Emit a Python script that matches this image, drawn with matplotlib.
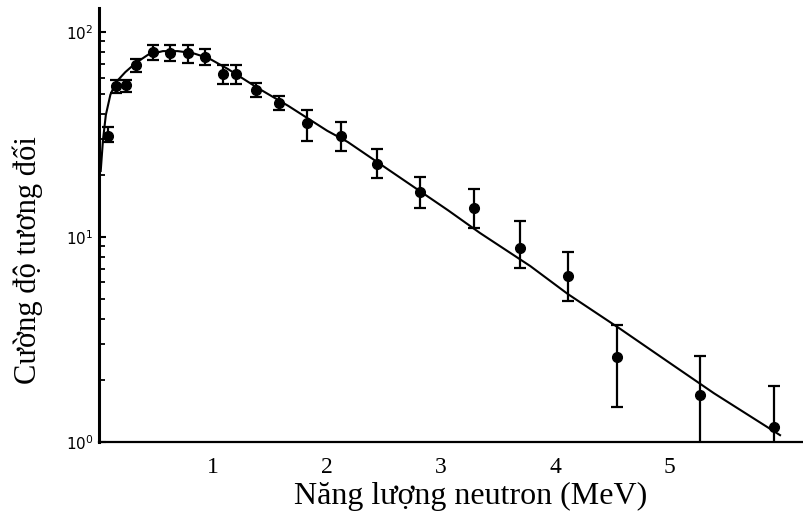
import matplotlib.pyplot as plt
import numpy as np

# measured points (MeV, relative intensity) with lower/upper bar ends
energy = [0.08, 0.15, 0.24, 0.32, 0.47, 0.62, 0.78, 0.93, 1.09, 1.20, 1.38,
          1.58, 1.82, 2.12, 2.44, 2.81, 3.29, 3.69, 4.11, 4.54, 5.27, 5.92]
intensity = [31, 54.5, 55, 69, 80, 79, 79, 75.5, 62.4, 62.4, 52,
             45, 36, 31, 22.7, 16.6, 13.8, 8.8, 6.45, 2.6, 1.70, 1.18]
bar_lo = [29.1, 50.4, 51, 63.8, 73, 72, 71, 69, 55.7, 55.7, 48.2,
          41.7, 29.4, 26.3, 19.4, 13.8, 11.1, 7.1, 4.87, 1.48, 0.8, 0.9]
bar_hi = [34.4, 58.3, 58.3, 73.8, 86.4, 86.4, 86.4, 82.6, 69, 69, 56.4,
          48.7, 41.7, 36.4, 26.9, 19.6, 17.1, 12.0, 8.45, 3.72, 2.63, 1.88]

# fitted curve
curve_x = [0.015, 0.035, 0.06, 0.1, 0.15, 0.23, 0.32, 0.43, 0.56, 0.69, 0.82,
           0.96, 1.13, 1.39, 1.66, 2.0, 2.18, 3.06, 3.34, 3.78, 4.11,
           4.57, 4.98, 5.39, 5.97]
curve_y = [21, 29.8, 39.4, 49.5, 57, 63.7, 70.5, 77.5, 80.7, 80.7, 79,
           74.6, 66, 53.4, 43.6, 33, 29.1, 13.5, 10.46, 7.22, 5.27,
           3.56, 2.48, 1.73, 1.08]

xticks = [1, 2, 3, 4, 5]

fig = plt.figure(figsize=(8.04, 5.19), dpi=100)
ax = fig.add_axes([99 / 804, 77 / 519, 705 / 804, 434 / 519])

y = np.array(intensity)
yerr = [y - np.array(bar_lo), np.array(bar_hi) - y]

ax.plot(curve_x, curve_y, color="black", lw=1.5)
ax.errorbar(energy, intensity, yerr=yerr, fmt="o", color="black",
            ms=7, elinewidth=1.6, capsize=4, capthick=1.6)

ax.set_yscale("log")
ax.set_ylim(1, 131)
ax.set_xlim(0, 6.18)

for s in ["top", "right"]:
    ax.spines[s].set_visible(False)
ax.spines["left"].set_linewidth(2.2)
ax.spines["bottom"].set_linewidth(1.6)

ax.set_xticks(xticks)
ax.set_xticklabels([str(t) for t in xticks], family="Liberation Serif", fontsize=17)
ax.tick_params(axis="x", length=0, pad=11)

ax.set_yticks([1, 10, 100])
ax.set_yticklabels(["$10^0$", "$10^1$", "$10^2$"], fontsize=11)
ax.tick_params(axis="y", which="major", direction="in", length=5, width=1.5, pad=4)
ax.tick_params(axis="y", which="minor", direction="in", length=4, width=1.3)

ax.set_xlabel("Năng lượng neutron (MeV)", family="Liberation Serif", fontsize=23)
ax.xaxis.set_label_coords(0.527, -0.093)
ax.set_ylabel("Cường độ tương đối", family="Liberation Serif", fontsize=22)
ax.yaxis.set_label_coords(-0.08, 0.42)

fig.savefig("out.png", dpi=100)
